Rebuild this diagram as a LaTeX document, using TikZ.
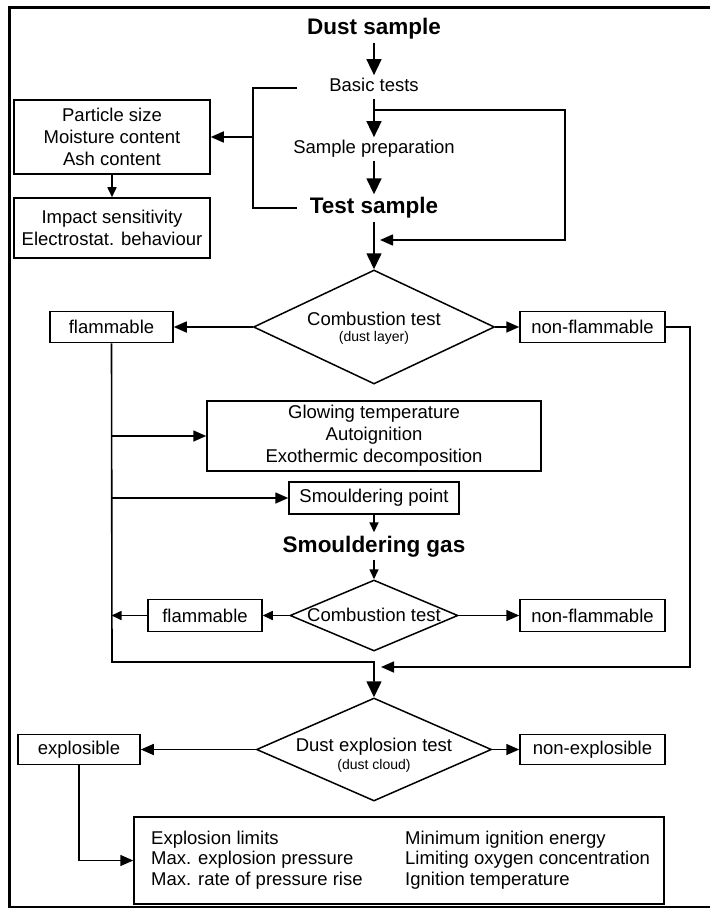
\documentclass[tikz,border=0pt]{standalone}
\usepackage{fontspec}
\setmainfont{Liberation Sans}
\usetikzlibrary{arrows.meta,shapes.geometric}
\newcommand\fnorm{\fontsize{18.5pt}{22pt}\selectfont}
\newcommand\fcols{\fontsize{18.5pt}{20.5pt}\selectfont}
\newcommand\fbig{\fontsize{22.5pt}{26pt}\selectfont\bfseries}
\newcommand\fsmall{\fontsize{14pt}{16pt}\selectfont}
\begin{document}
\begin{tikzpicture}[x=1pt,y=-1pt,
  every node/.style={inner sep=0pt},
  plain/.style={font=\fnorm, inner sep=3pt, text height=13.5pt, text depth=3.8pt},
  head/.style={font=\fbig, inner sep=3pt, text height=16.5pt, text depth=4.5pt},
  note/.style={font=\fsmall, inner sep=0pt},
  box/.style={draw, line width=1.5pt, font=\fnorm, align=center, inner sep=0pt},
  dia/.style={draw, diamond, line width=1.5pt, inner sep=0pt},
  con/.style={line width=1.6pt},
  bigarr/.style={con, -{Triangle[length=16pt,width=15pt]}},
  arr/.style={con, -{Triangle[length=13pt,width=11pt]}},
  smarr/.style={con, -{Triangle[length=10pt,width=9pt]}},
]
\useasboundingbox (0,0) rectangle (710,909);
% frame
\draw[line width=3pt] (710,7.5) -- (9.5,7.5) -- (9.5,908);
\draw[line width=1.3pt] (8,907) -- (710,907);

% top flow
\node[head] (ds) at (374,29) {Dust sample};
\node[plain] (bt) at (374,87) {Basic tests};
\node[plain] (sp) at (374,149) {Sample preparation};
\node[head] (ts) at (374,208) {Test sample};
\node[dia, minimum width=241pt, minimum height=114pt] (d1) at (374,327) {};
\node[font=\fnorm] (d1a) at (374,319) {Combustion test};
\node[note] (d1b) at (374,338) {(dust layer)};

\draw[bigarr] (ds) -- (bt);
\draw[bigarr] (bt) -- (sp);
\draw[bigarr] (sp) -- (ts);
\draw[bigarr] (ts) -- (d1);

% feedback loop
\coordinate (fbs) at (374,110);
\coordinate (fbc) at (565,110);
\coordinate (fbe) at (380,240);
\draw[arr] (fbs) -- (fbc) |- (fbe);

% basic tests bracket
\node[box, minimum width=196pt, minimum height=74pt] (pb) at (112,137) {Particle size\\Moisture content\\Ash content};
\node[box, minimum width=196pt, minimum height=60pt] (ib) at (112,228) {Impact sensitivity\\Electrostat. behaviour};
\coordinate (brt) at (297,88);
\coordinate (brm) at (253,137);
\coordinate (brb) at (297,208);
\draw[con] (brt) -| (brm) |- (brb);
\draw[arr] (brm) -- (pb.east);
\draw[smarr] (pb) -- (ib);

% combustion test results
\node[box, minimum width=123pt, minimum height=31pt] (fl1) at (111.5,327) {flammable};
\node[box, minimum width=145pt, minimum height=31pt] (nf1) at (592.5,327) {non-flammable};
\draw[arr] (d1) -- (fl1);
\draw[arr] (d1) -- (nf1);

\node[box, minimum width=334pt, minimum height=70pt] (gb) at (374,436) {Glowing temperature\\Autoignition\\Exothermic decomposition};
\draw[arr] (fl1.south |- gb.west) -- (gb.west);
\node[box, minimum width=170pt, minimum height=32pt] (spb) at (374,498) {Smouldering point};
\draw[arr] (fl1.south |- spb.west) -- (spb.west);
\node[head] (sg) at (374,546) {Smouldering gas};
\draw[smarr] (spb) -- (sg);

\node[dia, minimum width=168pt, minimum height=71pt] (d2) at (374,615.5) {};
\node[font=\fnorm] (d2a) at (374,615) {Combustion test};
\draw[smarr] (sg) -- (d2);
\node[box, minimum width=114pt, minimum height=32pt] (fl2) at (205,615.5) {flammable};
\node[box, minimum width=145pt, minimum height=32pt] (nf2) at (592.5,615.5) {non-flammable};
\draw[smarr] (d2) -- (fl2);
\draw[smarr] (fl2) -- (fl1.south |- fl2.west);
\draw[arr] (d2) -- (nf2);

% dust explosion test
\node[dia, minimum width=235pt, minimum height=103pt] (d3) at (374,749.5) {};
\node[font=\fnorm] (d3a) at (374,747) {Dust explosion test};
\node[note] (d3b) at (374,766) {(dust cloud)};

% merge lines into dust explosion test
\coordinate (lc) at (112,662);
\coordinate (rc) at (690,667);
\coordinate (rj) at (381,667);
\draw[bigarr] (fl1.south) -- (lc) -| (d3.north);
\draw[arr] (nf1.east) -| (rc) -- (rj);

\node[box, minimum width=122pt, minimum height=30pt] (ex) at (79,749.5) {explosible};
\node[box, minimum width=145pt, minimum height=30pt] (nex) at (592.5,749.5) {non-explosible};
\draw[arr] (d3) -- (ex);
\draw[arr] (d3) -- (nex);

\node[box, minimum width=530pt, minimum height=87pt] (eb) at (399,860.5) {};
\node[font=\fcols, align=left, anchor=west] (ebl) at (151,860) {Explosion limits\\Max. explosion pressure\\Max. rate of pressure rise};
\node[font=\fcols, align=left, anchor=west] (ebr) at (405,860) {Minimum ignition energy\\Limiting oxygen concentration\\Ignition temperature};
\draw[arr] (ex.south) |- (eb.west);
\end{tikzpicture}
\end{document}
